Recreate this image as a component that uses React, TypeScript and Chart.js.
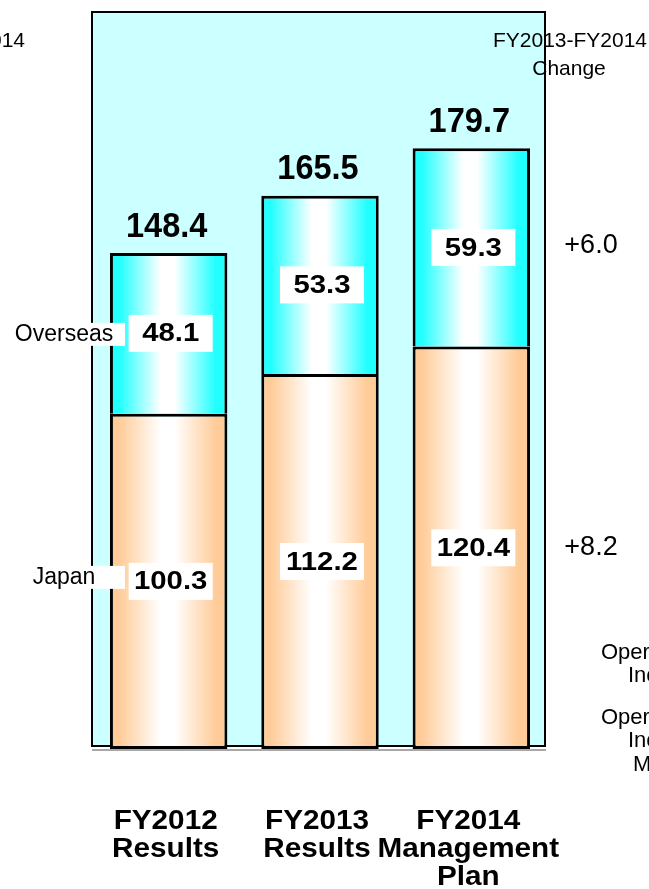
import { useEffect, useRef } from "react";
import { Chart, registerables } from "chart.js";

Chart.register(...registerables);

const categories = [
  ["FY2012", "Results"],
  ["FY2013", "Results"],
  ["FY2014", "Management", "Plan"],
];
const japanValues = [100.3, 112.2, 120.4];
const overseasValues = [48.1, 53.3, 59.3];
const totalValues = [148.4, 165.5, 179.7];
const seriesNames = ["Japan", "Overseas"];
const changeLabels = { overseas: "+6.0", japan: "+8.2" };
const changeHeader = ["FY2013-FY2014", "Change"];
const leftHeader = "FY2012-FY2014";
const sideNotes = [["Operating", "Income"], ["Operating", "Income", "Margin"]];
const yMax = 220.5;

const FONT = '"Liberation Sans", Arial, Helvetica, sans-serif';
const BAR_PCT = 0.776;

function drawText(
  ctx: CanvasRenderingContext2D,
  text: string,
  x: number,
  y: number,
  size: number,
  bold: boolean,
  align: CanvasTextAlign,
  xScale = 1,
  color = "#000"
) {
  ctx.save();
  ctx.font = `${bold ? "bold " : ""}${size}px ${FONT}`;
  ctx.fillStyle = color;
  ctx.textAlign = align;
  ctx.textBaseline = "middle";
  ctx.translate(x, y);
  ctx.scale(xScale, 1);
  ctx.fillText(text, 0, 0);
  ctx.restore();
}

const makeGradient = (color: string) => (context: any) => {
  const chart = context.chart;
  const xs = chart.scales?.x;
  if (!xs || !chart.chartArea) return color;
  const cx = xs.getPixelForValue(context.dataIndex);
  const w = (xs.width / categories.length) * BAR_PCT;
  const g = chart.ctx.createLinearGradient(cx - w / 2, 0, cx + w / 2 + 0.01, 0);
  g.addColorStop(0, color);
  g.addColorStop(0.08, color);
  g.addColorStop(0.43, "#ffffff");
  g.addColorStop(0.55, "#ffffff");
  g.addColorStop(0.9, color);
  g.addColorStop(1, color);
  return g;
};

const panelPlugin = {
  id: "panel",
  beforeDraw(chart: any) {
    const ctx = chart.ctx;
    ctx.save();
    ctx.fillStyle = "#ffffff";
    ctx.fillRect(0, 0, chart.width, chart.height);
    ctx.restore();
  },
  beforeDatasetsDraw(chart: any) {
    const { ctx, chartArea: ca } = chart;
    ctx.save();
    ctx.fillStyle = "#ccffff";
    ctx.fillRect(ca.left - 1, ca.top, ca.right - ca.left - 1, ca.bottom - ca.top - 3);
    ctx.strokeStyle = "#000";
    ctx.lineWidth = 2;
    ctx.strokeRect(ca.left - 1, ca.top, ca.right - ca.left - 1, ca.bottom - ca.top - 3);
    ctx.fillStyle = "#a8a8a8";
    ctx.fillRect(ca.left - 1, ca.bottom, ca.right - ca.left, 2);
    ctx.restore();
  },
  afterDatasetsDraw(chart: any) {
    const { ctx, chartArea: ca } = chart;
    const xs = chart.scales.x;
    const ys = chart.scales.y;

    categories.forEach((_, i) => {
      const cx = xs.getPixelForValue(i);
      const jy = (ys.getPixelForValue(0) + ys.getPixelForValue(japanValues[i])) / 2;
      const oy = (ys.getPixelForValue(japanValues[i]) + ys.getPixelForValue(totalValues[i])) / 2;
      [
        [japanValues[i], jy],
        [overseasValues[i], oy],
      ].forEach(([v, y]) => {
        ctx.save();
        ctx.fillStyle = "#ffffff";
        ctx.fillRect(cx + 2 - 42, y - 18.5, 84, 37);
        ctx.restore();
        drawText(ctx, (v as number).toFixed(1), cx + 2, y + 1, 25.5, true, "center", 1.15);
      });
      const ty = ys.getPixelForValue(totalValues[i]) - 26;
      drawText(ctx, totalValues[i].toFixed(1), cx - 2, ty, 35, true, "center", 0.93);
      categories[i].forEach((line, k) => {
        drawText(ctx, line, cx - 3, ca.bottom + 73 + k * 28, 27, true, "center", 1.1);
      });
    });

    const jy0 = (ys.getPixelForValue(0) + ys.getPixelForValue(japanValues[0])) / 2 - 4;
    const oy0 = (ys.getPixelForValue(japanValues[0]) + ys.getPixelForValue(totalValues[0])) / 2 + 1;
    [
      [seriesNames[1], oy0],
      [seriesNames[0], jy0],
    ].forEach(([name, y]) => {
      ctx.save();
      ctx.fillStyle = "#ffffff";
      ctx.fillRect(3, (y as number) - 11.5, 122, 23);
      ctx.restore();
      drawText(ctx, name as string, 64, y as number, 23, false, "center");
    });

    const last = categories.length - 1;
    const cj = (ys.getPixelForValue(0) + ys.getPixelForValue(japanValues[last])) / 2;
    const co = (ys.getPixelForValue(japanValues[last]) + ys.getPixelForValue(totalValues[last])) / 2;
    drawText(ctx, changeLabels.overseas, 591, co - 2, 27, false, "center");
    drawText(ctx, changeLabels.japan, 591, cj, 27, false, "center");

    drawText(ctx, changeHeader[0], 570, 41, 21, false, "center");
    drawText(ctx, changeHeader[1], 569, 69, 21, false, "center");
    drawText(ctx, leftHeader, 25, 41, 21, false, "right");

    drawText(ctx, sideNotes[0][0], 601, 653, 22, false, "left");
    drawText(ctx, sideNotes[0][1], 628, 676, 22, false, "left");
    drawText(ctx, sideNotes[1][0], 601, 718, 22, false, "left");
    drawText(ctx, sideNotes[1][1], 628, 741, 22, false, "left");
    drawText(ctx, sideNotes[1][2], 633, 765, 22, false, "left");
  },
};

export default function App() {
  const ref = useRef<HTMLCanvasElement>(null);
  useEffect(() => {
    if (!ref.current) return;
    const chart = new Chart(ref.current, {
      type: "bar",
      data: {
        labels: categories.map((c) => c.join(" ")),
        datasets: [
          {
            label: seriesNames[0],
            data: japanValues,
            backgroundColor: makeGradient("#ffcc99"),
            borderColor: "#000",
            borderWidth: 3,
            borderSkipped: false,
            barPercentage: BAR_PCT,
            categoryPercentage: 1,
          },
          {
            label: seriesNames[1],
            data: overseasValues,
            backgroundColor: makeGradient("#22ffff"),
            borderColor: "#000",
            borderWidth: 3,
            borderSkipped: "bottom",
            barPercentage: BAR_PCT,
            categoryPercentage: 1,
          },
        ],
      },
      options: {
        responsive: false,
        animation: false,
        layout: { padding: { left: 93, right: 102, top: 12, bottom: 140 } },
        plugins: { legend: { display: false }, tooltip: { enabled: false } },
        scales: {
          x: { display: false, stacked: true, grid: { display: false } },
          y: { display: false, stacked: true, min: 0, max: yMax },
        },
      },
      plugins: [panelPlugin],
    });
    return () => chart.destroy();
  }, []);
  return (
    <div style={{ position: "fixed", left: 0, top: 0, width: 649, height: 889 }}>
      <canvas ref={ref} width={649} height={889} style={{ display: "block" }} />
    </div>
  );
}
